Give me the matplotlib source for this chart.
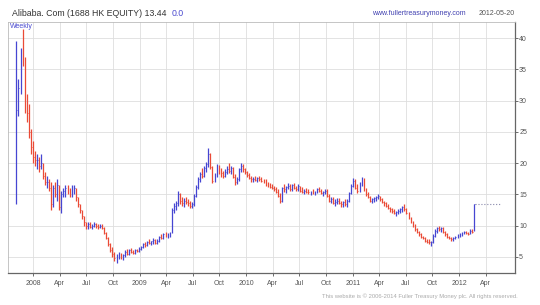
import numpy as np
import pandas as pd
import matplotlib
matplotlib.use('Agg')
import matplotlib.pyplot as plt
import matplotlib.dates as mdates

plt.rcParams['font.family'] = ['Liberation Sans', 'DejaVu Sans']

# 周线数据 (从 2007-11-05 开始, 每周一)
first_week = '2007-11-05'
first_open = 13.5
close = [28.5, 32.0, 37.5, 36.5, 29.5, 28.0, 25.0, 22.5, 21.0, 20.5,
         20.5, 19.5, 20.0, 18.0, 17.0, 17.0, 16.0, 13.5, 16.0, 15.0,
         16.5, 13.0, 15.0, 15.5, 16.0, 15.5, 15.0, 16.0, 16.0, 14.5,
         13.5, 12.5, 11.5, 10.5, 10.0, 10.2, 9.8, 10.0, 10.2, 9.9,
         9.8, 10.0, 9.6, 8.8, 8.0, 7.0, 6.0, 5.5, 4.8, 5.0,
         5.2, 4.9, 5.3, 5.8, 5.5, 6.0, 5.8, 5.6, 6.0, 5.9,
         6.3, 6.6, 7.0, 6.9, 7.4, 7.2, 7.5, 7.7, 7.2, 7.6,
         8.2, 8.0, 8.6, 8.3, 8.6, 8.8, 12.5, 13.2, 13.6, 15.0,
         14.0, 13.6, 14.0, 13.8, 13.6, 13.2, 13.5, 14.8, 16.2, 17.5,
         18.2, 18.0, 19.2, 19.8, 21.5, 19.4, 17.2, 18.0, 19.5, 18.6,
         18.4, 18.0, 18.6, 19.0, 18.8, 19.2, 17.8, 17.0, 17.4, 19.0,
         19.6, 19.0, 18.5, 18.1, 17.6, 17.4, 17.5, 17.3, 17.6, 17.5,
         17.2, 17.0, 16.6, 16.4, 16.2, 16.0, 15.8, 15.4, 14.8, 14.0,
         16.0, 15.8, 16.2, 16.4, 15.8, 16.5, 16.0, 15.8, 16.3, 15.6,
         15.4, 15.6, 15.4, 15.3, 15.4, 15.2, 15.5, 15.8, 15.6, 15.2,
         15.4, 15.6, 14.8, 14.0, 14.2, 13.6, 13.8, 14.0, 13.6, 13.4,
         13.8, 13.4, 14.0, 15.2, 16.4, 17.2, 16.0, 15.6, 16.8, 17.4,
         15.8, 15.0, 14.6, 14.0, 14.2, 14.4, 14.6, 14.8, 14.2, 13.8,
         13.6, 13.2, 12.8, 12.6, 12.4, 12.0, 12.2, 12.4, 12.6, 13.0,
         12.6, 12.0, 11.2, 10.6, 10.0, 9.4, 9.0, 8.6, 8.2, 8.0,
         7.6, 7.4, 7.3, 7.4, 8.4, 9.2, 9.6, 9.4, 9.6, 9.0,
         8.6, 8.2, 8.0, 7.8, 8.0, 8.2, 8.4, 8.6, 8.8, 9.0,
         8.8, 8.7, 9.2, 9.0, 13.44]
high = [39.5, 33.5, 38.5, 41.5, 37.0, 31.0, 29.5, 25.5, 23.5, 22.0,
        21.5, 21.0, 21.5, 20.0, 18.5, 18.0, 17.5, 17.0, 16.5, 17.0,
        17.5, 16.5, 15.5, 16.0, 16.5, 16.5, 16.0, 16.5, 16.5, 16.0,
        14.5, 13.5, 12.5, 11.5, 10.5, 10.5, 10.5, 10.3, 10.5, 10.4,
        10.2, 10.3, 10.2, 9.8, 9.0, 8.2, 7.2, 6.5, 5.8, 5.5,
        5.8, 5.6, 5.5, 6.0, 6.2, 6.2, 6.4, 6.0, 6.2, 6.3,
        6.5, 6.8, 7.2, 7.4, 7.6, 7.8, 7.6, 8.0, 7.8, 7.9,
        8.4, 8.6, 8.8, 8.9, 8.8, 9.0, 12.8, 13.6, 14.0, 15.5,
        15.2, 14.6, 14.4, 14.5, 14.2, 14.0, 13.8, 15.0, 16.5, 17.8,
        18.6, 19.2, 19.6, 20.2, 22.4, 21.6, 19.6, 18.4, 19.8, 19.7,
        19.2, 18.8, 19.0, 19.6, 20.0, 19.6, 19.4, 18.2, 17.8, 19.2,
        20.0, 19.8, 19.2, 18.8, 18.4, 18.0, 17.8, 18.0, 17.8, 18.0,
        17.8, 17.5, 17.4, 17.0, 16.8, 16.6, 16.4, 16.2, 15.8, 15.2,
        16.2, 16.6, 16.4, 16.8, 16.6, 16.6, 16.8, 16.4, 16.6, 16.4,
        16.2, 15.8, 16.0, 15.8, 15.6, 15.8, 15.6, 16.0, 16.2, 15.9,
        15.6, 15.8, 15.8, 15.0, 14.6, 14.6, 14.2, 14.4, 14.4, 14.0,
        14.0, 14.2, 14.2, 15.4, 16.6, 17.6, 17.4, 16.6, 17.0, 17.8,
        17.6, 16.0, 15.4, 14.8, 14.4, 14.6, 14.8, 15.0, 14.8, 14.4,
        14.0, 13.8, 13.4, 13.0, 12.8, 12.6, 12.4, 12.6, 12.8, 13.2,
        13.4, 12.8, 12.2, 11.4, 10.8, 10.2, 9.6, 9.2, 8.8, 8.4,
        8.2, 7.8, 7.8, 7.6, 8.6, 9.4, 9.8, 10.0, 9.8, 9.7,
        9.2, 8.8, 8.4, 8.2, 8.2, 8.4, 8.6, 8.8, 9.0, 9.2,
        9.2, 9.0, 9.4, 9.4, 13.5]
low = [13.5, 27.5, 31.0, 35.5, 28.0, 26.5, 24.0, 21.5, 20.0, 19.5,
       19.0, 18.5, 19.0, 17.5, 16.5, 16.0, 15.5, 12.5, 13.0, 14.5,
       14.0, 12.5, 12.0, 14.5, 14.5, 15.0, 14.5, 14.5, 15.0, 14.0,
       13.0, 12.0, 11.0, 10.0, 9.5, 9.5, 9.6, 9.5, 9.7, 9.6,
       9.4, 9.6, 9.4, 8.6, 7.8, 6.8, 5.8, 5.0, 4.3, 4.0,
       4.6, 4.6, 4.5, 5.0, 5.2, 5.3, 5.6, 5.4, 5.5, 5.7,
       5.8, 6.0, 6.4, 6.6, 6.8, 7.0, 6.9, 7.1, 7.0, 7.1,
       7.4, 7.8, 7.9, 8.1, 8.0, 8.2, 8.8, 12.0, 12.5, 13.2,
       13.5, 13.2, 13.0, 13.4, 13.2, 12.8, 12.8, 13.2, 14.5, 15.8,
       17.0, 17.6, 17.8, 18.6, 19.4, 19.0, 16.8, 16.9, 17.8, 18.2,
       17.8, 17.6, 17.8, 18.2, 18.4, 18.2, 17.6, 16.5, 16.6, 17.2,
       18.6, 18.6, 18.2, 17.8, 17.4, 17.0, 17.0, 17.1, 17.0, 17.2,
       17.0, 16.8, 16.4, 16.2, 16.0, 15.8, 15.6, 15.2, 14.6, 13.6,
       13.8, 15.4, 15.2, 15.8, 15.6, 15.6, 15.8, 15.5, 15.6, 15.4,
       15.2, 15.0, 15.2, 15.0, 14.9, 15.0, 14.9, 15.2, 15.4, 15.0,
       14.8, 15.0, 14.6, 13.8, 13.6, 13.4, 13.2, 13.4, 13.4, 13.0,
       13.0, 13.2, 13.0, 13.8, 15.0, 16.2, 15.8, 15.2, 15.4, 16.4,
       15.6, 14.8, 14.4, 13.8, 13.6, 13.8, 14.0, 14.2, 14.0, 13.6,
       13.2, 13.0, 12.6, 12.2, 12.0, 11.8, 11.6, 11.8, 12.0, 12.2,
       12.4, 11.8, 11.0, 10.4, 9.8, 9.2, 8.8, 8.4, 8.0, 7.8,
       7.4, 7.2, 7.0, 6.8, 7.2, 8.2, 8.8, 9.2, 9.0, 8.8,
       8.4, 8.0, 7.8, 7.6, 7.6, 7.8, 8.0, 8.2, 8.4, 8.6,
       8.6, 8.5, 8.6, 8.8, 9.2]
last_price = 13.44
last_date = '2012-05-20'
tick_dates = pd.date_range('2008-01-01', '2012-04-01', freq='QS')

dates = pd.date_range(first_week, periods=len(close), freq='W-MON')
opens = [first_open] + close[:-1]
colors = ['#4646d2' if c >= o else '#ea4a36' for c, o in zip(close, opens)]

fig = plt.figure(figsize=(5.4, 3.05), dpi=100)
ax = fig.add_axes([0.0148, 0.105, 0.9389, 0.823])

ax.vlines(dates, low, high, colors=colors, linewidth=0.9)
# 收盘横线
half = pd.Timedelta(days=3)
ax.hlines(close, dates, dates + half, colors=colors, linewidth=0.6)

# 停牌后的虚线
ax.plot([dates[-1] + half, pd.Timestamp(last_date)], [last_price, last_price],
        linestyle=':', color='#8888aa', linewidth=0.8)

ax.set_xlim(pd.Timestamp('2007-10-07'), pd.Timestamp('2012-07-10'))
ax.set_ylim(2.4, 42.6)

# 坐标轴
ax.yaxis.tick_right()
ax.set_yticks([5, 10, 15, 20, 25, 30, 35, 40])
ax.tick_params(axis='y', labelsize=5, colors='#555555', length=2, width=0.6, pad=1)
ax.set_xticks(tick_dates)
ax.set_xticklabels([str(d.year) if d.month == 1 else d.strftime('%b') for d in tick_dates])
ax.tick_params(axis='x', labelsize=5, colors='#555555', length=2, width=0.6, pad=3)

ax.grid(True, color='#dedede', linewidth=0.6)
ax.set_axisbelow(True)
for side in ['left', 'top']:
    ax.spines[side].set_color('#bbbbbb')
    ax.spines[side].set_linewidth(0.6)
for side in ['right', 'bottom']:
    ax.spines[side].set_color('#666666')
    ax.spines[side].set_linewidth(0.9)

ax.text(0.004, 0.995, 'Weekly', transform=ax.transAxes, fontsize=5,
        color='#4b4bd0', ha='left', va='top')

# 标题
fig.text(0.022, 0.955, 'Alibaba. Com (1688 HK EQUITY) 13.44', fontsize=6.3,
         color='#333333', ha='left', va='center')
fig.text(0.318, 0.955, '0.0', fontsize=6.3, color='#4b4bd0', ha='left', va='center')
fig.text(0.862, 0.957, 'www.fullertreasurymoney.com', fontsize=5,
         color='#4040b0', ha='right', va='center')
fig.text(0.953, 0.957, '2012-05-20', fontsize=5, color='#555555',
         ha='right', va='center')
fig.text(0.958, 0.028, 'This website is \u00a9 2006-2014 Fuller Treasury Money plc. All rights reserved.',
         fontsize=4.2, color='#aaaaaa', ha='right', va='center')

fig.savefig('out.png', dpi=100)
